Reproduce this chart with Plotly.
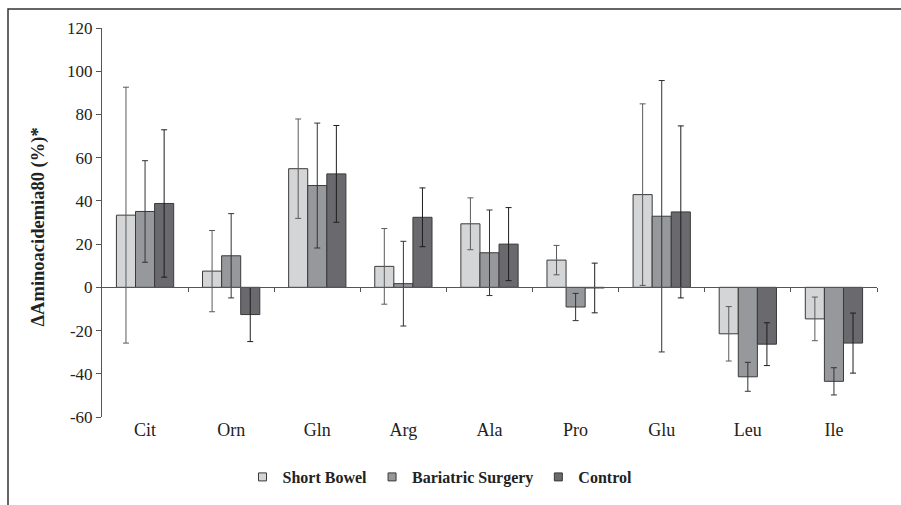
import plotly.graph_objects as go

categories = ["Cit", "Orn", "Gln", "Arg", "Ala", "Pro", "Glu", "Leu", "Ile"]
series_names = ["Short Bowel", "Bariatric Surgery", "Control"]

short_bowel = [33.4, 7.5, 54.9, 9.7, 29.4, 12.6, 42.9, -21.5, -14.6]
short_bowel_err = [59.2, 18.8, 23.0, 17.5, 12.0, 6.8, 42.0, 12.6, 10.1]
bariatric = [35.1, 14.6, 47.1, 1.7, 16.0, -9.1, 32.9, -41.4, -43.5]
bariatric_err = [23.5, 19.5, 28.9, 19.6, 19.8, 6.3, 62.8, 6.7, 6.3]
control = [38.8, -12.6, 52.5, 32.4, 20.0, -0.3, 34.9, -26.3, -25.8]
control_err = [34.1, 12.5, 22.4, 13.6, 16.9, 11.5, 39.8, 9.9, 13.9]

y_ticks = [-60, -40, -20, 0, 20, 40, 60, 80, 100, 120]
y_tick_labels = ["-60", "-40", "-20", "0", "20", "40", "60", "80", "100", "120"]

fills = ["#d4d5d7", "#97989c", "#6a6a6e"]
err_colors = ["#5a5a5a", "#333333", "#1e1e1e"]
values = [short_bowel, bariatric, control]
errors = [short_bowel_err, bariatric_err, control_err]

FONT = "Times New Roman, Liberation Serif, serif"

fig = go.Figure()
for name, vals, errs, fc, ec in zip(series_names, values, errors, fills, err_colors):
    fig.add_trace(go.Bar(
        x=categories, y=vals, name=name, showlegend=False,
        marker=dict(color=fc, line=dict(color="#3a3a3a", width=1)),
        error_y=dict(type="data", array=errs, visible=True, color=ec,
                     thickness=1, width=3),
    ))
    # legend entry with small square marker
    fig.add_trace(go.Scatter(
        x=[None], y=[None], mode="markers", name="<b>" + name + "</b>",
        marker=dict(symbol="square", size=8, color=fc,
                    line=dict(color="#3a3a3a", width=1)),
        hoverinfo="skip",
    ))

# dummy trace to activate the zero-line axis with boundary ticks
fig.add_trace(go.Scatter(x=[None], y=[None], xaxis="x2", showlegend=False,
                         hoverinfo="skip"))

W, H = 901, 505
L, R, T, B = 102, 24, 28, 87
pw, ph = W - L - R, H - T - B

def px(xp):
    return (xp - L) / pw

def py(yp):
    return (H - B - yp) / ph

fig.update_layout(
    width=W, height=H,
    margin=dict(l=L, r=R, t=T, b=B),
    paper_bgcolor="white", plot_bgcolor="white",
    barmode="group", bargap=0.335, bargroupgap=0,
    font=dict(family=FONT, color="#222222"),
    xaxis=dict(
        categoryorder="array", categoryarray=categories,
        showline=False, ticks="", showgrid=False, zeroline=False,
        tickfont=dict(family=FONT, size=18, color="#222222"),
        range=[-0.5, 8.5],
    ),
    xaxis2=dict(
        overlaying="x", anchor="free", position=py(288),
        range=[-0.5, 8.5], showline=True, linecolor="#555555", linewidth=1,
        tickmode="array", tickvals=[i + 0.5 for i in range(9)],
        ticks="outside", ticklen=4, tickcolor="#555555",
        showticklabels=False, showgrid=False, zeroline=False,
    ),
    yaxis=dict(
        range=[-60, 120], tickvals=y_ticks, ticktext=y_tick_labels,
        showline=True, linecolor="#555555", linewidth=1,
        ticks="outside", ticklen=5, tickcolor="#555555",
        showgrid=False, zeroline=False,
        tickfont=dict(family=FONT, size=17, color="#222222"),
    ),
    legend=dict(
        orientation="h", x=px(440), xanchor="center", y=py(477),
        yanchor="middle", font=dict(family=FONT, size=16, color="#222222"),
        itemsizing="trace", bgcolor="rgba(0,0,0,0)",
    ),
    annotations=[dict(
        text="<b>ΔAminoacidemia80 (%)*</b>", textangle=-90,
        xref="paper", yref="paper", x=px(38), y=py(228),
        xanchor="center", yanchor="middle", showarrow=False,
        font=dict(family=FONT, size=18.5, color="#222222"),
    )],
    shapes=[dict(
        type="rect", xref="paper", yref="paper",
        x0=px(8), y0=py(9), x1=px(910), y1=py(515),
        line=dict(color="#333333", width=1.5), fillcolor="rgba(0,0,0,0)",
        layer="below",
    )],
)

fig.write_html("out.html")
